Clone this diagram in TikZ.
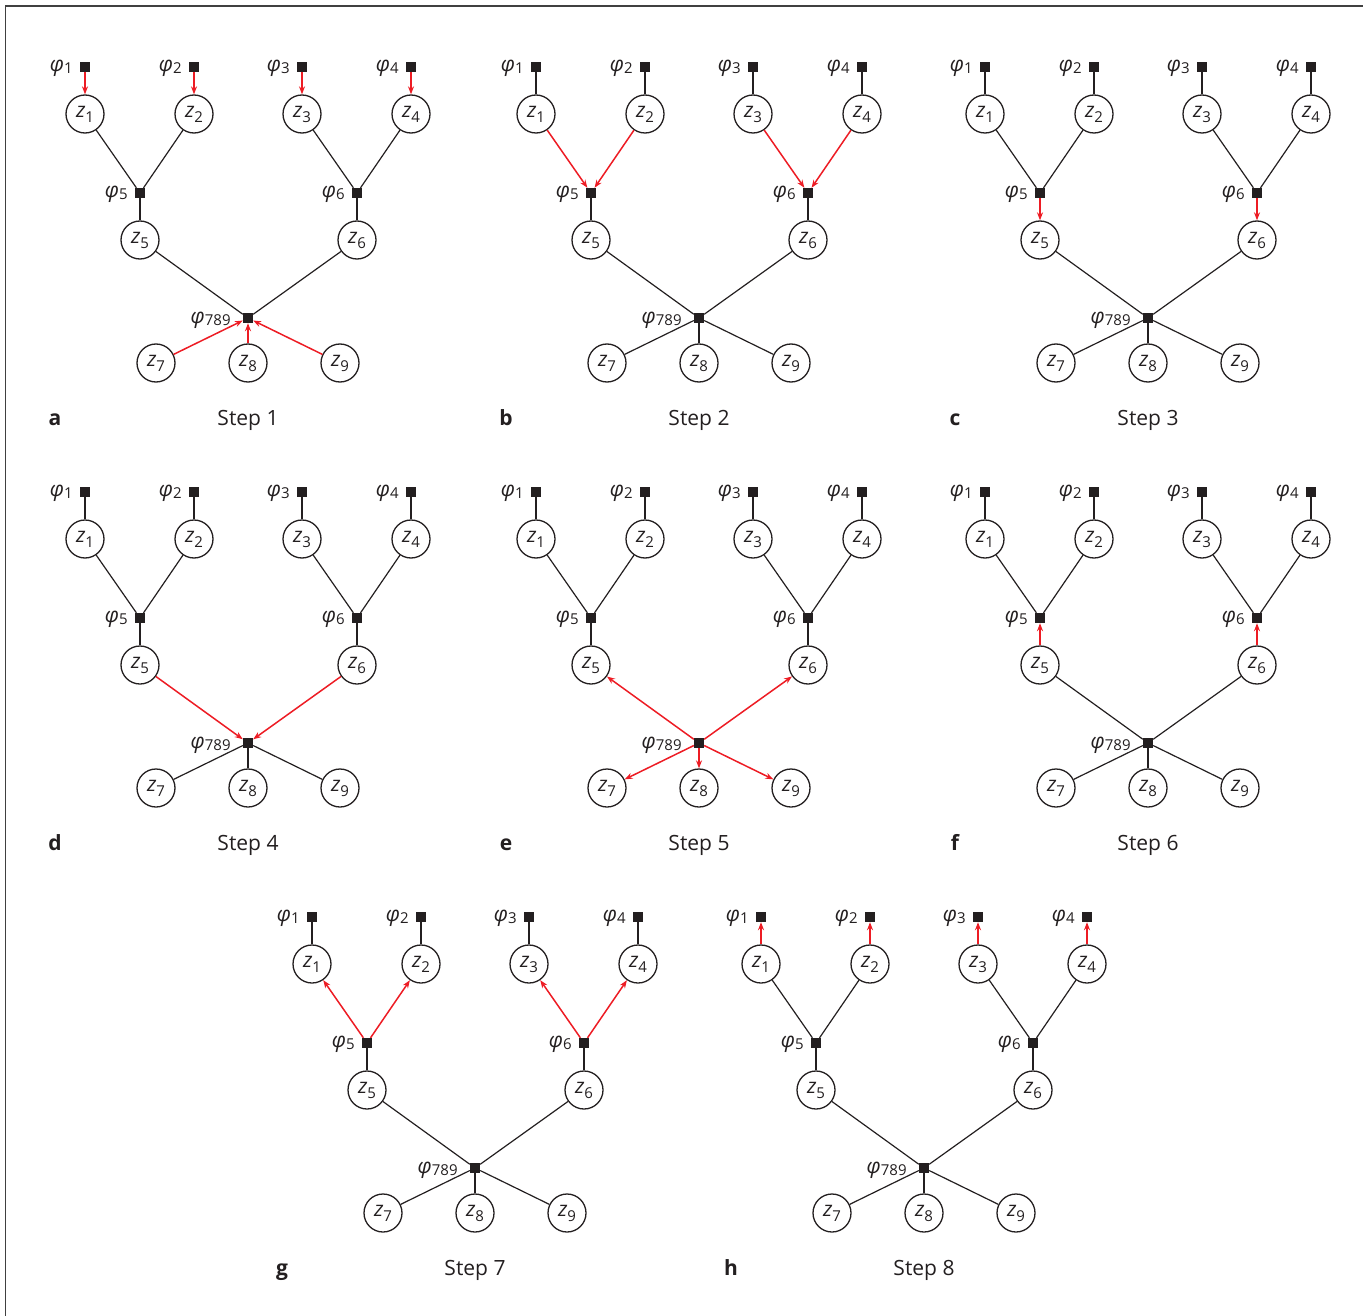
\documentclass[tikz,border=0pt]{standalone}
\usepackage{fontspec}
\setmainfont{Open Sans}
\usetikzlibrary{arrows.meta}
\definecolor{myred}{RGB}{237,28,36}
\definecolor{ink}{RGB}{35,31,32}
\newcommand\zlab[1]{{\fontsize{21}{21}\selectfont\itshape z}\raisebox{-5pt}{\fontsize{15}{15}\selectfont #1}}
\newcommand\plab[1]{{\fontsize{21}{21}\selectfont\itshape φ}\raisebox{-2pt}{\fontsize{15}{15}\selectfont #1}}
\tikzset{
  sq/.style={fill=ink, minimum size=10pt, inner sep=0pt},
  zc/.style={draw=ink, circle, line width=1.3pt, minimum size=38pt, inner sep=0pt, text=ink},
  plbl/.style={anchor=east, inner sep=0pt, text=ink},
  pe/.style={draw=ink, line width=1.2pt},
  fwd/.style={draw=myred, line width=1.5pt, -{Stealth[length=8pt,width=6pt]}},
  bwd/.style={draw=myred, line width=1.5pt, {Stealth[length=8pt,width=6pt]}-},
  steplbl/.style={anchor=base, font=\fontsize{21}{21}\selectfont, text=ink},
  letlbl/.style={anchor=base, font=\fontsize{21}{21}\selectfont\bfseries, text=ink}
}
\newcommand\mytree[5]{%
\begin{scope}[shift={(#2,#3)}]
\foreach \i/\x in {1/85,2/194,3/302,4/411}{
  \node[sq] (#1p\i) at (\x,67) {};
  \node[zc] (#1z\i) at (\x,114) {\zlab{\i}};
  \node[plbl] (#1l\i) at ([xshift=-7pt,yshift=-1pt]#1p\i.west) {\plab{\i}};
}
\node[sq] (#1p5) at (140,193) {};
\node[plbl] (#1l5) at ([xshift=-7pt,yshift=-1pt]#1p5.west) {\plab{5}};
\node[sq] (#1p6) at (357,193) {};
\node[plbl] (#1l6) at ([xshift=-7pt,yshift=-1pt]#1p6.west) {\plab{6}};
\node[zc] (#1z5) at (140,240) {\zlab{5}};
\node[zc] (#1z6) at (357,240) {\zlab{6}};
\node[sq] (#1p789) at (248,318) {};
\node[plbl] (#1l789) at ([xshift=-12pt,yshift=-2pt]#1p789.west) {\plab{789}};
\node[zc] (#1z7) at (156,363) {\zlab{7}};
\node[zc] (#1z8) at (248,363) {\zlab{8}};
\node[zc] (#1z9) at (340,363) {\zlab{9}};
\node[letlbl] (#1let) at (55,425) {#4};
\node[steplbl] (#1step) at (248,425) {Step #5};
\ifnum#5=1 \tikzset{eA/.style={fwd}}\else\ifnum#5=8 \tikzset{eA/.style={bwd}}\else\tikzset{eA/.style={pe}}\fi\fi
\ifnum#5=2 \tikzset{eB/.style={fwd}}\else\ifnum#5=7 \tikzset{eB/.style={bwd}}\else\tikzset{eB/.style={pe}}\fi\fi
\ifnum#5=3 \tikzset{eC/.style={fwd}}\else\ifnum#5=6 \tikzset{eC/.style={bwd}}\else\tikzset{eC/.style={pe}}\fi\fi
\ifnum#5=4 \tikzset{eD/.style={fwd}}\else\ifnum#5=5 \tikzset{eD/.style={bwd}}\else\tikzset{eD/.style={pe}}\fi\fi
\ifnum#5=1 \tikzset{eE/.style={fwd}}\else\ifnum#5=5 \tikzset{eE/.style={bwd}}\else\tikzset{eE/.style={pe}}\fi\fi
\foreach \i in {1,...,4}{\draw[eA] (#1p\i) -- (#1z\i);}
\draw[eB] (#1z1) -- (#1p5);
\draw[eB] (#1z2) -- (#1p5);
\draw[eB] (#1z3) -- (#1p6);
\draw[eB] (#1z4) -- (#1p6);
\draw[eC] (#1p5) -- (#1z5);
\draw[eC] (#1p6) -- (#1z6);
\draw[eD] (#1z5) -- (#1p789);
\draw[eD] (#1z6) -- (#1p789);
\draw[eE] (#1z7) -- (#1p789);
\draw[eE] (#1z8) -- (#1p789);
\draw[eE] (#1z9) -- (#1p789);
\end{scope}}
\begin{document}
\begin{tikzpicture}[x=1pt,y=-1pt]
\useasboundingbox (0,0) rectangle (1363,1316);
\draw[line width=1.5pt, black!75] (5.5,1316) -- (5.5,6) -- (1363,6);
\mytree{a}{0}{0}{a}{1}
\mytree{b}{451}{0}{b}{2}
\mytree{c}{900}{0}{c}{3}
\mytree{d}{0}{425}{d}{4}
\mytree{e}{451}{425}{e}{5}
\mytree{f}{900}{425}{f}{6}
\mytree{g}{227}{850}{g}{7}
\mytree{h}{676}{850}{h}{8}
\end{tikzpicture}
\end{document}
